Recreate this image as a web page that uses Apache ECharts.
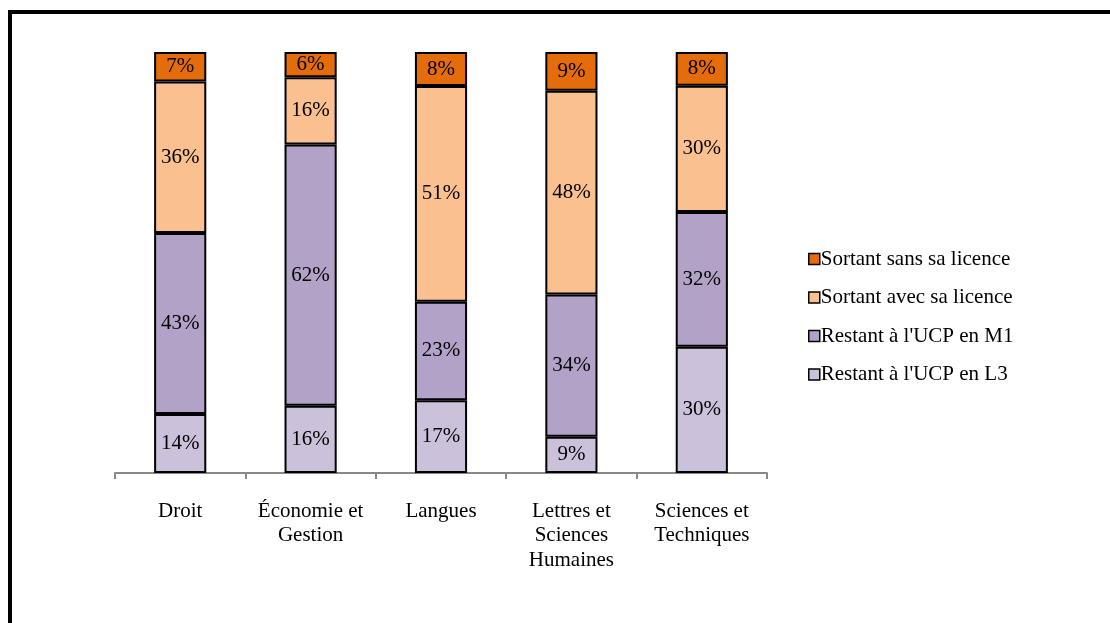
<!DOCTYPE html>
<html>
<head>
<meta charset="utf-8">
<script src="https://cdn.jsdelivr.net/npm/echarts@6/dist/echarts.min.js"></script>
<style>
html,body{margin:0;padding:0;background:#fff;}
#c{width:1110px;height:623px;}
</style>
</head>
<body>
<div id="c"></div>
<script>
const categories = ["Droit", "Économie et\nGestion", "Langues", "Lettres et\nSciences\nHumaines", "Sciences et\nTechniques"];
const restantL3 = [14, 16, 17.3, 8.6, 30];
const restantM1 = [43, 62, 23.4, 33.8, 32];
const sortantAvec = [36, 16, 51.2, 48.4, 30];
const sortantSans = [7, 6, 8.1, 9.2, 8];
const seriesNames = ["Restant à l'UCP en L3", "Restant à l'UCP en M1", "Sortant avec sa licence", "Sortant sans sa licence"];
const colors = ["#CCC1DA", "#B3A2C7", "#FAC090", "#E46C0A"];

const FONT = "'Liberation Serif', 'Times New Roman', serif";
const allData = [restantL3, restantM1, sortantAvec, sortantSans];

const chart = echarts.init(document.getElementById('c'));
chart.setOption({
  animation: false,
  backgroundColor: '#fff',
  textStyle: { fontFamily: FONT },
  graphic: [{
    type: 'rect',
    shape: { x: 10, y: 12, width: 1300, height: 800 },
    style: { fill: 'none', stroke: '#000', lineWidth: 4 },
    silent: true
  }],
  grid: { left: 115, right: 343, top: 52, bottom: 150 },
  legend: {
    orient: 'vertical',
    left: 803,
    top: 242,
    itemWidth: 11,
    itemHeight: 11,
    itemGap: 14.5,
    icon: 'rect',
    data: [seriesNames[3], seriesNames[2], seriesNames[1], seriesNames[0]],
    itemStyle: { borderColor: '#000', borderWidth: 1.5 },
    textStyle: { fontFamily: FONT, fontSize: 21, color: '#000', lineHeight: 24, padding: [0, 0, 0, -4] }
  },
  xAxis: {
    type: 'category',
    data: categories,
    axisLine: { lineStyle: { color: '#888', width: 2 } },
    axisTick: { show: true, length: 6, lineStyle: { color: '#888', width: 2 } },
    axisLabel: { fontFamily: FONT, fontSize: 21, color: '#000', lineHeight: 24.5, margin: 26, interval: 0 }
  },
  yAxis: {
    type: 'value',
    min: 0,
    max: 100,
    show: false,
    splitLine: { show: false }
  },
  series: allData.map((d, i) => ({
    name: seriesNames[i],
    type: 'bar',
    stack: 'total',
    data: d,
    barWidth: '40%',
    itemStyle: { color: colors[i], borderColor: '#000', borderWidth: 2 },
    label: {
      show: true,
      position: 'inside',
      fontFamily: FONT,
      fontSize: 21,
      color: '#000',
      formatter: p => Math.round(p.value) + '%'
    }
  }))
});
</script>
</body>
</html>
